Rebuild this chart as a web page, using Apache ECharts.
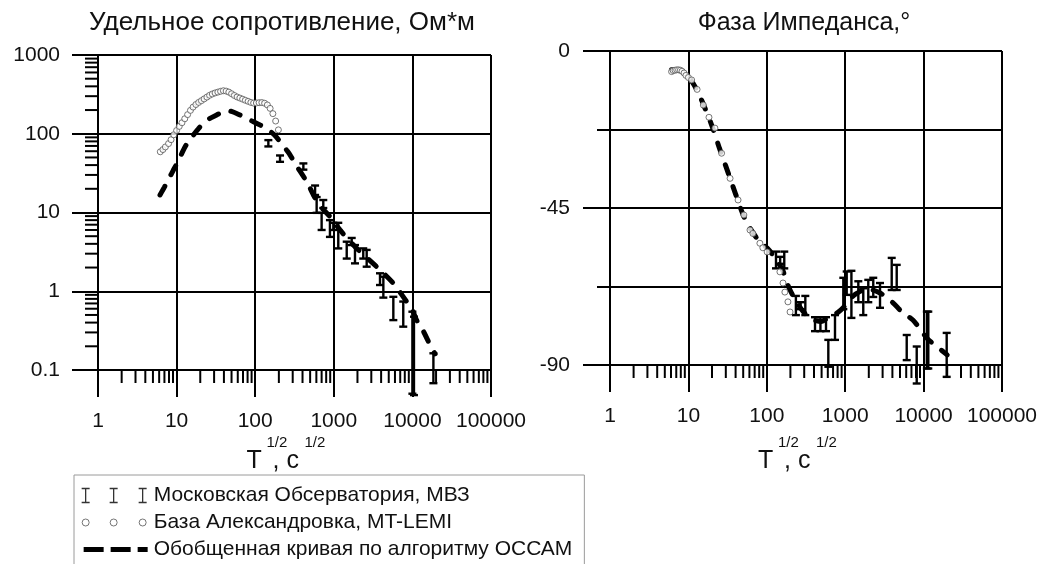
<!DOCTYPE html>
<html><head><meta charset="utf-8">
<script src="https://cdn.jsdelivr.net/npm/echarts@6/dist/echarts.min.js"></script>
<style>html,body{margin:0;padding:0;background:#fff}#c{width:1045px;height:564px}</style>
</head><body><div id="c"></div>
<script>
const FONT = '"Liberation Sans", Arial, sans-serif';

// ---- Resistivity panel ----
const rhoBarT    = [147, 207, 410, 578, 605, 700, 735, 893, 986, 1140, 1460, 1690, 1860, 2370, 2620, 3870, 4270, 5720, 7650, 10000, 10470, 18500];
const rhoBarLow  = [69, 44, 35, 16.7, 9.9, 6.0, 11.4, 4.9, 6.0, 3.5, 2.6, 3.86, 2.26, 2.6, 2.05, 1.2, 0.83, 0.43, 0.355, 0.05, 0.048, 0.068];
const rhoBarHigh = [83, 53, 42, 22, 15.7, 9.9, 14.4, 8.0, 7.4, 7.4, 4.26, 4.75, 3.86, 3.5, 3.35, 1.69, 1.53, 0.85, 0.74, 0.55, 0.475, 0.163];

const rhoCircT = [6.2, 6.7, 7.2, 7.9, 8.5, 9.2, 10, 10.8, 11.7, 12.7, 13.8, 15, 16.2, 17.6, 19.1, 20.7, 22.4, 24.3, 26.3, 28.5, 30.9, 33.5, 36.3, 39.4, 42.7, 46.2, 50.1, 54.3, 58.9, 63.8, 69.2, 75, 81.3, 88.1, 95.5, 103.5, 112.2, 121.6, 131.8, 142.9, 154.9, 167.9, 182, 197.2];
const rhoCircV = [59, 63, 68, 75, 84, 97, 110, 124, 138, 155, 175, 198, 218, 235, 250, 263, 277, 292, 308, 320, 330, 338, 346, 352, 348, 338, 322, 306, 293, 284, 275, 266, 258, 250, 245, 246, 248, 249, 244, 232, 210, 180, 145, 112];

const rhoLineT = [6.15, 7, 8, 9.1, 10.5, 12.2, 14, 16.3, 19, 21.9, 26, 32.3, 38, 43, 50, 64, 80, 95, 110, 127, 150, 175, 220, 251, 277, 321, 452, 632, 895, 1200, 1860, 3510, 5720, 8440, 9770, 11300, 13800, 16700, 19400];
const rhoLineV = [16.7, 21, 27, 34.6, 45, 62, 79, 96, 116, 136, 155, 173, 188, 196, 192, 173, 155, 142, 132, 123, 110, 97, 74, 62, 54, 42, 24.6, 13.1, 8.85, 6.0, 3.68, 2.05, 1.26, 0.74, 0.61, 0.43, 0.31, 0.21, 0.16];

// ---- Phase panel ----
const phBarT    = [131, 148, 167, 235, 270, 310, 412, 483, 569, 609, 741, 946, 1045, 1200, 1470, 1700, 1970, 2280, 2780, 3920, 4540, 6090, 8170, 11000, 11480, 19700];
const phBarLow  = [-62.3, -61, -62.3, -75.7, -74, -75.7, -80.3, -80.3, -80.3, -90.5, -82.8, -74, -69.9, -76.5, -72, -75.7, -72, -70.5, -73.6, -68.5, -68.5, -88.6, -95.3, -91, -91, -93.4];
const phBarHigh = [-57.5, -59, -57.5, -70.2, -72, -70.2, -76.3, -76.3, -76.3, -82.8, -75.7, -65, -63.2, -63, -66, -68, -65.6, -65, -66.5, -59.3, -61.3, -81.4, -84.7, -74.7, -74.7, -80.8];

const phCircT = [6.1, 6.4, 6.75, 7.1, 7.5, 7.9, 8.3, 8.8, 9.3, 10, 11, 12.9, 15.5, 18.3, 21.8, 26.5, 34, 43, 51, 61, 66.5, 81.6, 89, 101, 147, 161, 170, 186, 198];
const phCircV = [-5.9, -5.6, -5.5, -5.4, -5.4, -5.5, -5.8, -6.3, -7.0, -7.6, -8.3, -11, -15.5, -19, -22.1, -29.3, -36.5, -42.7, -47, -51.3, -52.3, -55.1, -56.4, -57.6, -63.3, -66.5, -69.1, -71.9, -74.8];

const phLineT = [6.1, 7, 8, 9, 10, 12, 15, 20, 25, 30, 40, 50, 60, 80, 101, 120, 161, 170, 198, 240, 300, 390, 500, 600, 800, 950, 1100, 1400, 1900, 2700, 4000, 5300, 7300, 8800, 11000, 14000, 20000];
const phLineV = [-5.4, -5.3, -5.6, -6.3, -7.3, -10, -14.5, -21.5, -28, -33, -41, -47, -50.5, -54.5, -56.5, -58.5, -63, -65, -68.5, -72, -75, -77, -77.5, -76.5, -75, -73.5, -71.5, -69.5, -68.2, -69.2, -72, -74.8, -77.1, -79.4, -82.3, -84.3, -87.1];

// ---- axis decoration values ----
const minorTicksT = [2,3,4,5,6,7,8,9,20,30,40,50,60,70,80,90,200,300,400,500,600,700,800,900,2000,3000,4000,5000,6000,7000,8000,9000,20000,30000,40000,50000,60000,70000,80000,90000];
const minorTicksRho = [0.2,0.3,0.4,0.5,0.6,0.7,0.8,0.9,2,3,4,5,6,7,8,9,20,30,40,50,60,70,80,90,200,300,400,500,600,700,800,900];
const T_MIN = 1, T_MAX = 100000, RHO_MIN = 0.1, RHO_MAX = 1000, PH_MIN = -90, PH_MAX = 0;

const NAME_BARS = 'Московская Обсерватория, МВЗ';
const NAME_CIRC = 'База Александровка, MT-LEMI';
const NAME_LINE = 'Обобщенная кривая по алгоритму ОССАМ';

const zip2 = (a, b) => a.map((v, i) => [v, b[i]]);
const zip3 = (a, b, c) => a.map((v, i) => [v, b[i], c[i]]);

const GRID_L = {left: 98, top: 55, width: 393, height: 315};
const GRID_R = {left: 610, top: 51, width: 392, height: 314};

function errorBar(params, api) {
  const x = api.value(0);
  const a = api.coord([x, api.value(1)]);
  const b = api.coord([x, api.value(2)]);
  const cap = 4;
  const st = {stroke: '#000', lineWidth: 2.4};
  return {type: 'group', children: [
    {type: 'line', shape: {x1: a[0], y1: a[1], x2: b[0], y2: b[1]}, style: st},
    {type: 'line', shape: {x1: a[0] - cap, y1: a[1], x2: a[0] + cap, y2: a[1]}, style: st},
    {type: 'line', shape: {x1: b[0] - cap, y1: b[1], x2: b[0] + cap, y2: b[1]}, style: st}
  ]};
}
function xMinorTick(yBase) {
  return function (params, api) {
    const p = api.coord([api.value(0), yBase]);
    return {type: 'line', shape: {x1: p[0], y1: p[1], x2: p[0], y2: p[1] + 13}, style: {stroke: '#000', lineWidth: 2}};
  };
}
function yMinorTick(xBase) {
  return function (params, api) {
    const p = api.coord([xBase, api.value(1)]);
    return {type: 'line', shape: {x1: p[0] - 13, y1: p[1], x2: p[0], y2: p[1]}, style: {stroke: '#000', lineWidth: 2}};
  };
}

const blackLine = {show: true, lineStyle: {color: '#000', width: 2}};
const labelStyle = {fontFamily: FONT, fontSize: 21, color: '#111'};
const logFmt = v => (v < 1 ? (+v).toFixed(1) : String(Math.round(v)));

function xAxisDef(gridIndex) {
  return {
    type: 'log', logBase: 10, gridIndex, min: T_MIN, max: T_MAX, position: 'bottom',
    axisLine: {show: true, onZero: false, lineStyle: {color: '#000', width: 2}},
    axisTick: {show: true, inside: false, length: 27, lineStyle: {color: '#000', width: 2}},
    axisLabel: Object.assign({margin: 41, formatter: logFmt}, labelStyle),
    splitLine: blackLine, minorTick: {show: false}
  };
}

const dashedStyle = {color: '#000', width: 5, type: [10, 13], cap: 'round'};
const circleStyle = {color: '#fff', borderColor: '#555', borderWidth: 1};

function axisName(cx) {
  const mk = (txt, x, y, size) => ({
    type: 'text', x, y, silent: true,
    style: {text: txt, fill: '#111', font: size + 'px ' + FONT, align: 'left', verticalAlign: 'middle', textAlign: 'left', textVerticalAlign: 'middle'}
  });
  return [mk('T', cx - 48, 461, 25), mk('1/2', cx - 28, 443, 15), mk(', c', cx - 22, 461, 25), mk('1/2', cx + 10, 443, 15)];
}

const ICON_I = 'path://M0,0 M1,0L9,0M5,0L5,14M1,14L9,14 M29,0L37,0M33,0L33,14M29,14L37,14 M58,0L66,0M62,0L62,14M58,14L66,14 M68,14';
const ICON_O = 'path://M0,0 M1.5,7A3.5,3.5 0 1,0 8.5,7A3.5,3.5 0 1,0 1.5,7Z M29.5,7A3.5,3.5 0 1,0 36.5,7A3.5,3.5 0 1,0 29.5,7Z M58.5,7A3.5,3.5 0 1,0 65.5,7A3.5,3.5 0 1,0 58.5,7Z M68,14';
const ICON_D = 'path://M0,0 M3,4.5L23,4.5L23,9.5L3,9.5Z M30,4.5L50,4.5L50,9.5L30,9.5Z M57,4.5L67,4.5L67,9.5L57,9.5Z M68,14';

const chart = echarts.init(document.getElementById('c'), null, {renderer: 'canvas'});
chart.setOption({
  backgroundColor: '#fff',
  animation: false,
  title: [
    {text: 'Удельное сопротивление, Ом*м', left: 282, top: 10, textAlign: 'center', padding: 0,
     textStyle: {fontFamily: FONT, fontSize: 26, fontWeight: 'normal', color: '#111'}},
    {text: 'Фаза Импеданса,°', left: 804, top: 11, textAlign: 'center', padding: 0,
     textStyle: {fontFamily: FONT, fontSize: 25, fontWeight: 'normal', color: '#111'}}
  ],
  legend: {
    orient: 'vertical', left: 74, top: 475, height: 120, padding: [7, 12, 12, 6], itemGap: 0,
    itemWidth: 68, itemHeight: 14, selectedMode: false,
    borderColor: '#9a9a9a', borderWidth: 1, backgroundColor: '#fff',
    textStyle: {fontFamily: FONT, fontSize: 21, color: '#111', lineHeight: 27},
    data: [
      {name: NAME_BARS, icon: ICON_I, itemStyle: {color: 'rgba(0,0,0,0)', borderColor: '#333', borderWidth: 1.3}},
      {name: NAME_CIRC, icon: ICON_O, itemStyle: {color: 'rgba(0,0,0,0)', borderColor: '#555', borderWidth: 1}},
      {name: NAME_LINE, icon: ICON_D, itemStyle: {color: '#000', borderWidth: 0}}
    ]
  },
  grid: [
    Object.assign({containLabel: false}, GRID_L),
    Object.assign({containLabel: false}, GRID_R)
  ],
  xAxis: [xAxisDef(0), xAxisDef(1)],
  yAxis: [
    {type: 'log', logBase: 10, gridIndex: 0, min: RHO_MIN, max: RHO_MAX, position: 'left',
     axisLine: {show: true, onZero: false, lineStyle: {color: '#000', width: 2}},
     axisTick: {show: true, inside: false, length: 26, lineStyle: {color: '#000', width: 2}},
     axisLabel: Object.assign({margin: 38, formatter: logFmt}, labelStyle),
     splitLine: blackLine},
    {type: 'value', gridIndex: 1, min: PH_MIN, max: PH_MAX, interval: 22.5, position: 'left', offset: 0,
     axisLine: {show: true, onZero: false, lineStyle: {color: '#000', width: 2}},
     axisTick: {show: true, inside: false, length: 13, lineStyle: {color: '#000', width: 2}},
     axisLabel: {show: false},
     splitLine: blackLine},
    {type: 'value', gridIndex: 1, min: PH_MIN, max: PH_MAX, interval: 45, position: 'left', offset: 0,
     axisLine: {show: false, onZero: false},
     axisTick: {show: true, inside: false, length: 27, lineStyle: {color: '#000', width: 2}},
     axisLabel: Object.assign({margin: 40}, labelStyle),
     splitLine: {show: false}}
  ],
  graphic: axisName(GRID_L.left + GRID_L.width / 2).concat(axisName(GRID_R.left + GRID_R.width / 2)),
  series: [
    // minor ticks
    {type: 'custom', xAxisIndex: 0, yAxisIndex: 0, silent: true, clip: false, z: 1,
     data: minorTicksT.map(v => [v, RHO_MIN]), renderItem: xMinorTick(RHO_MIN)},
    {type: 'custom', xAxisIndex: 0, yAxisIndex: 0, silent: true, clip: false, z: 1,
     data: minorTicksRho.map(v => [T_MIN, v]), renderItem: yMinorTick(T_MIN)},
    {type: 'custom', xAxisIndex: 1, yAxisIndex: 1, silent: true, clip: false, z: 1,
     data: minorTicksT.map(v => [v, PH_MIN]), renderItem: xMinorTick(PH_MIN)},
    // error bars
    {name: NAME_BARS, type: 'custom', xAxisIndex: 0, yAxisIndex: 0, clip: false, z: 3,
     encode: {x: 0, y: [1, 2]}, itemStyle: {color: '#000'},
     data: zip3(rhoBarT, rhoBarLow, rhoBarHigh), renderItem: errorBar},
    {name: NAME_BARS, type: 'custom', xAxisIndex: 1, yAxisIndex: 1, clip: false, z: 3,
     encode: {x: 0, y: [1, 2]}, itemStyle: {color: '#000'},
     data: zip3(phBarT, phBarLow, phBarHigh), renderItem: errorBar},
    // OCCAM curves
    {name: NAME_LINE, type: 'line', xAxisIndex: 0, yAxisIndex: 0, z: 4, showSymbol: false, symbol: 'none',
     smooth: 0.3, lineStyle: dashedStyle, itemStyle: {color: '#000'}, data: zip2(rhoLineT, rhoLineV)},
    {name: NAME_LINE, type: 'line', xAxisIndex: 1, yAxisIndex: 1, z: 4, showSymbol: false, symbol: 'none',
     smooth: 0.3, lineStyle: dashedStyle, itemStyle: {color: '#000'}, data: zip2(phLineT, phLineV)},
    // MT-LEMI circles
    {name: NAME_CIRC, type: 'scatter', xAxisIndex: 0, yAxisIndex: 0, z: 5, symbol: 'circle', symbolSize: 6,
     itemStyle: circleStyle, data: zip2(rhoCircT, rhoCircV)},
    {name: NAME_CIRC, type: 'scatter', xAxisIndex: 1, yAxisIndex: 1, z: 5, symbol: 'circle', symbolSize: 6,
     itemStyle: circleStyle, data: zip2(phCircT, phCircV)}
  ]
});
</script>
</body></html>
